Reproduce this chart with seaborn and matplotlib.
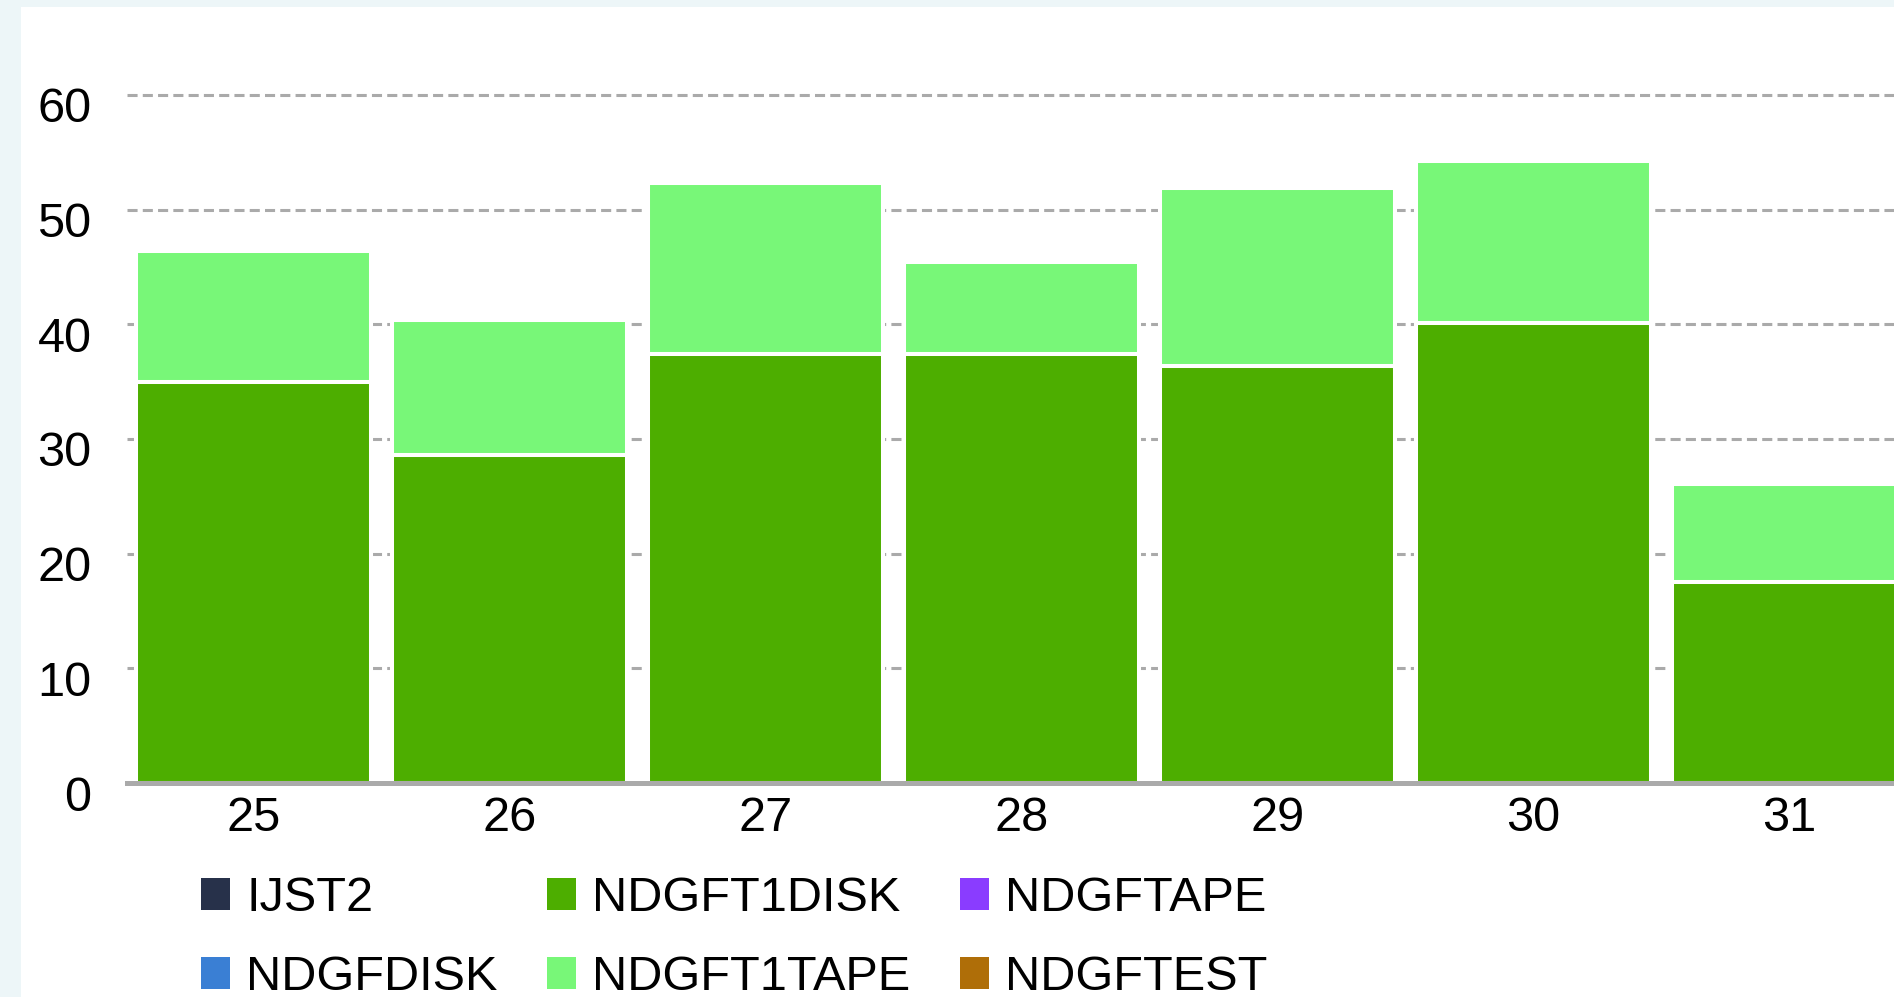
import seaborn as sns
import matplotlib.pyplot as plt
import matplotlib.transforms as mtransforms
from matplotlib.patches import Patch, Rectangle

# data
days = ["25", "26", "27", "28", "29", "30", "31"]
t1disk = [35.0, 28.6, 37.4, 37.4, 36.4, 40.1, 17.5]
t1tape = [11.4, 11.8, 14.9, 8.0, 15.5, 14.1, 8.6]
y_ticks = [0, 10, 20, 30, 40, 50, 60]

legend_labels = ["IJST2", "NDGFDISK", "NDGFT1DISK", "NDGFT1TAPE", "NDGFTAPE", "NDGFTEST"]
legend_colors = ["#27314A", "#3A7FD4", "#4DAE00", "#78F778", "#8A3CFF", "#AF6E08"]

disk_color = "#4DAE00"
tape_color = "#78F778"
totals = [d + t for d, t in zip(t1disk, t1tape)]

sns.set_style("white")
plt.rcParams["font.family"] = ["Liberation Sans", "DejaVu Sans"]
plt.rcParams["text.color"] = "black"
plt.rcParams["xtick.color"] = "black"
plt.rcParams["ytick.color"] = "black"

W, H = 1894, 997
fig = plt.figure(figsize=(W / 100, H / 100), dpi=100, facecolor="#EDF6F8")
fig.add_artist(Rectangle((21 / W, 0), 1, 1 - 7 / H, transform=fig.transFigure,
                         facecolor="white", edgecolor="none", zorder=-1))

ax = fig.add_axes([127 / W, (H - 783) / H, 1 - 127 / W, 745.4 / H])
ax.set_facecolor("white")

# stacked bars: total first (tape on top), disk drawn over it
sns.barplot(x=days, y=totals, order=days, color=tape_color, saturation=1,
            width=0.918, edgecolor="white", linewidth=2.9, errorbar=None, ax=ax)
sns.barplot(x=days, y=t1disk, order=days, color=disk_color, saturation=1,
            width=0.918, edgecolor="white", linewidth=2.9, errorbar=None, ax=ax)

ax.set_xlim(-0.496, 6.409)
ax.set_ylim(0, 65)
ax.set_yticks(y_ticks)
ax.yaxis.grid(True, linestyle=(0, (3.3, 1.7)), color="#AAAAAA", linewidth=2.2)
ax.set_axisbelow(True)

for s in ["top", "right", "left"]:
    ax.spines[s].set_visible(False)
ax.spines["bottom"].set_color("#AAAAAA")
ax.spines["bottom"].set_linewidth(3.6)

ax.tick_params(axis="y", length=0, pad=25.5, labelsize=35, labelcolor="black")
ax.tick_params(axis="x", length=0, pad=9, labelsize=35, labelcolor="black")
ax.set_xlabel("")
ax.set_ylabel("")

offset = mtransforms.ScaledTranslation(0, -10 / 100, fig.dpi_scale_trans)
for lab in ax.get_yticklabels():
    lab.set_transform(lab.get_transform() + offset)

handles = [Patch(facecolor=c, edgecolor="none") for c in legend_colors]
fig.legend(handles, legend_labels, ncol=3, loc="upper left",
           bbox_to_anchor=(201 / W, 1 - 876 / H), frameon=False, fontsize=35,
           borderpad=0, borderaxespad=0, handlelength=0.6, handleheight=0.64,
           handletextpad=0.33, columnspacing=1.02, labelspacing=0.7,
           labelcolor="black")

fig.savefig("out.png", dpi=100, facecolor=fig.get_facecolor())
